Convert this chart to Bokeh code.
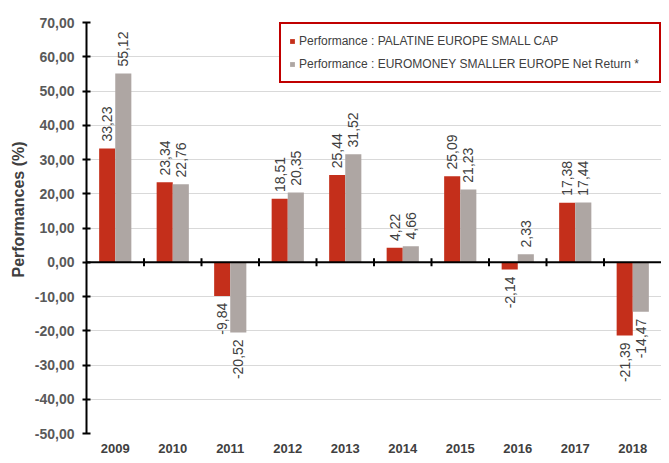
import math
from bokeh.plotting import figure
from bokeh.models import ColumnDataSource, Span, FixedTicker, Range1d, Title, Legend
from bokeh.core.properties import value
from bokeh.embed import file_html
from bokeh.resources import INLINE

years = ["2009", "2010", "2011", "2012", "2013", "2014", "2015", "2016", "2017", "2018"]
palatine = [33.23, 23.34, -9.84, 18.51, 25.44, 4.22, 25.09, -2.14, 17.38, -21.39]
euromoney = [55.12, 22.76, -20.52, 20.35, 31.52, 4.66, 21.23, 2.33, 17.44, -14.47]
y_ticks = [-50, -40, -30, -20, -10, 0, 10, 20, 30, 40, 50, 60, 70]
y_tick_labels = ["-50,00", "-40,00", "-30,00", "-20,00", "-10,00", "0,00", "10,00",
                 "20,00", "30,00", "40,00", "50,00", "60,00", "70,00"]
series_names = ["Performance : PALATINE EUROPE SMALL CAP",
                "Performance : EUROMONEY SMALLER EUROPE Net Return *"]
y_title = "Performances (%)"

RED = "#C42F1B"
GRAY = "#AEA6A3"
TXT = "#404040"
FONT = "Liberation Sans"

n = len(years)
centers = [i + 0.5 for i in range(n)]
off = 0.14
bw = 0.28

p = figure(width=661, height=455, output_backend="svg", toolbar_location=None,
           x_range=Range1d(0, n), y_range=Range1d(y_ticks[0], y_ticks[-1]),
           min_border_left=86, min_border_right=0, min_border_top=22, min_border_bottom=19)
p.outline_line_color = None
p.background_fill_color = "white"

src_a = ColumnDataSource(dict(x=[c - off for c in centers], top=palatine))
src_b = ColumnDataSource(dict(x=[c + off for c in centers], top=euromoney))
ra = p.vbar(x="x", top="top", bottom=0, width=bw, source=src_a, fill_color=RED, line_color=None)
rb = p.vbar(x="x", top="top", bottom=0, width=bw, source=src_b, fill_color=GRAY, line_color=None)

# data labels
def lbl_src(xs, vals):
    return ColumnDataSource(dict(
        x=xs,
        y=[v + (2 if v >= 0 else -2) for v in vals],
        t=[f"{v:.2f}".replace(".", ",") for v in vals],
        a=["left" if v >= 0 else "right" for v in vals],
    ))

for xs, vals in ((src_a.data["x"], palatine), (src_b.data["x"], euromoney)):
    p.text(x="x", y="y", text="t", text_align="a", source=lbl_src(xs, vals), angle=math.pi / 2,
           text_baseline="middle", text_font=value(FONT), text_font_size="14px", text_color=TXT)

# zero line with category separator ticks
p.add_layout(Span(location=0, dimension="width", line_color="black", line_width=2))
p.segment(x0=list(range(1, n)), x1=list(range(1, n)), y0=-1.15, y1=1.15,
          line_color="black", line_width=2)

# y axis
p.yaxis.ticker = FixedTicker(ticks=y_ticks)
p.yaxis.major_label_overrides = dict(zip(y_ticks, y_tick_labels))
p.yaxis.axis_line_color = "black"
p.yaxis.axis_line_width = 2
p.yaxis.major_tick_line_width = 2
p.yaxis.major_tick_in = 4
p.yaxis.major_tick_out = 4
p.yaxis.minor_tick_line_color = None
p.yaxis.major_label_standoff = 8
p.yaxis.major_label_text_font = FONT
p.yaxis.major_label_text_font_style = "bold"
p.yaxis.major_label_text_font_size = "14px"
p.yaxis.major_label_text_color = "#595959"

# x axis
p.xaxis.ticker = FixedTicker(ticks=centers)
p.xaxis.major_label_overrides = dict(zip(centers, years))
p.xaxis.axis_line_color = None
p.xaxis.major_tick_line_color = None
p.xaxis.minor_tick_line_color = None
p.xaxis.major_label_standoff = 4
p.xaxis.major_label_text_font = FONT
p.xaxis.major_label_text_font_style = "bold"
p.xaxis.major_label_text_font_size = "13px"
p.xaxis.major_label_text_color = TXT

p.xgrid.grid_line_color = None
p.ygrid.ticker = FixedTicker(ticks=y_ticks)
p.ygrid.grid_line_color = "#D9D9D9"
p.ygrid.grid_line_width = 1

# y-axis title
p.add_layout(Title(text=y_title, align="left", offset=156, text_font=FONT,
                   text_font_size="16px", text_font_style="bold", text_color=TXT), "left")

legend = Legend(items=[(series_names[0], [ra]), (series_names[1], [rb])],
                location="top_right", margin=0, padding=8, spacing=5, label_height=18,
                glyph_width=6, glyph_height=6, label_standoff=4, label_width=352,
                label_text_font=FONT, label_text_font_size="12px", label_text_color=TXT,
                border_line_color="#C00000", border_line_width=2, border_line_alpha=1,
                background_fill_color="white", background_fill_alpha=1)
p.add_layout(legend)

open("out.html", "w").write(file_html(p, INLINE))
